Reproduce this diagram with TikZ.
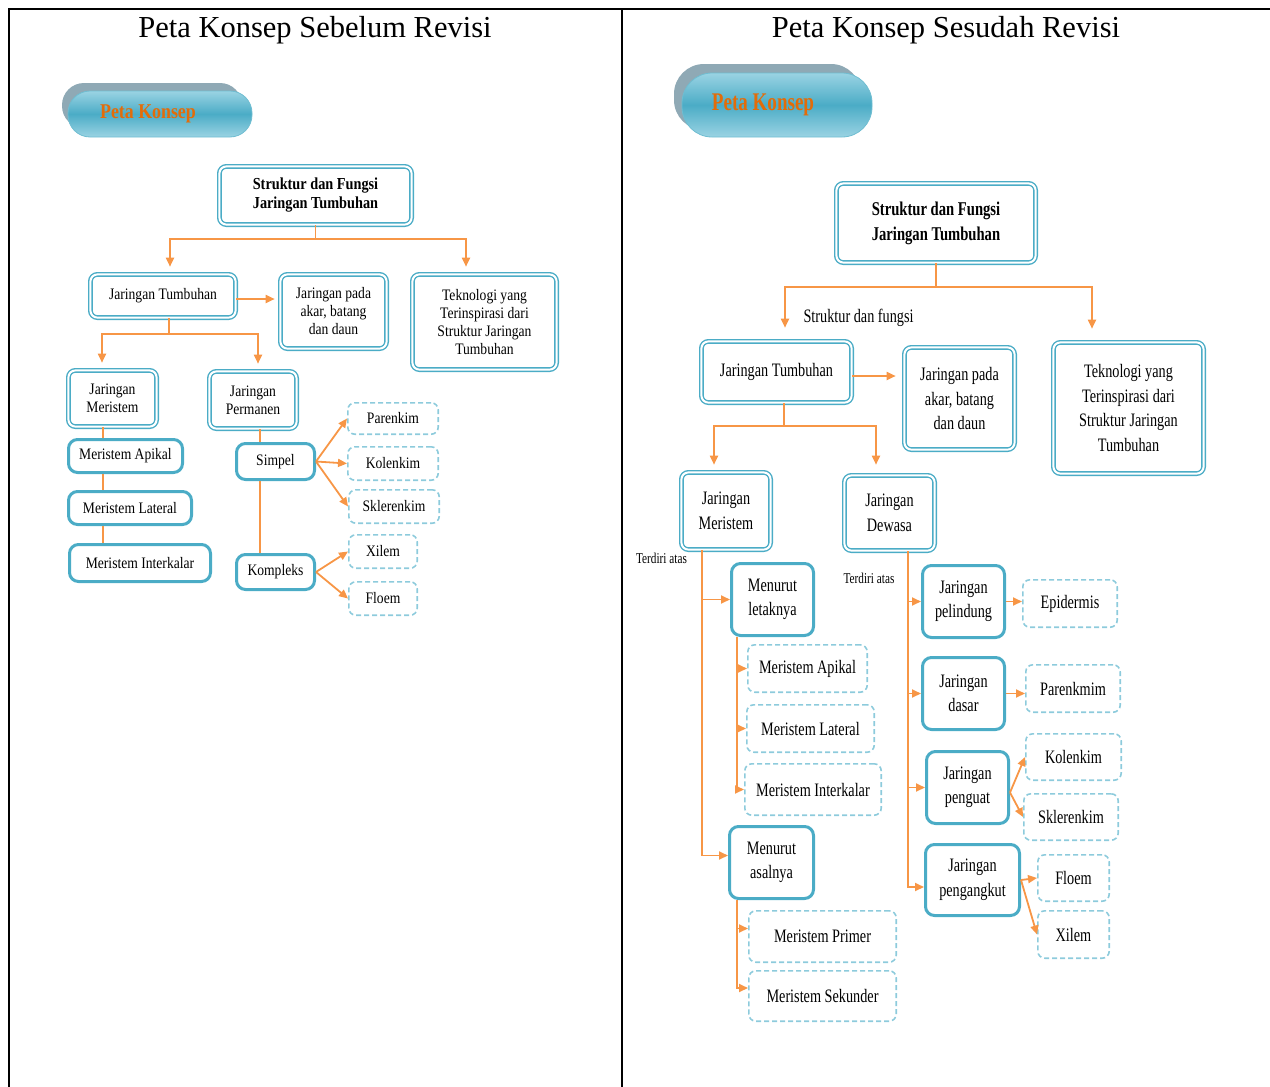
\documentclass[tikz,border=0pt]{standalone}
\usepackage{fontspec}
\setmainfont{Liberation Serif}
\newfontfamily\condL[FakeStretch=0.85]{Liberation Serif}
\newfontfamily\condR[FakeStretch=0.75]{Liberation Serif}
\usepackage{tikz}
\usetikzlibrary{arrows.meta,positioning}
\definecolor{biru}{HTML}{4BACC6}
\definecolor{birumuda}{HTML}{8DCBDC}
\definecolor{oranye}{HTML}{F79646}
\definecolor{oranyetua}{HTML}{E36C09}
\definecolor{bayang}{HTML}{8FA9B5}
\definecolor{pilterang}{HTML}{9AD3E3}

\begin{document}
\begin{tikzpicture}[x=1pt,y=-1pt,
  sz/.style 2 args={minimum width=#1pt,minimum height=#2pt},
  dbl/.style={draw=biru,double=white,double distance=2pt,line width=1.4pt,rounded corners=7pt,align=center,inner sep=0pt,fill=white},
  sol/.style={draw=biru,line width=3pt,rounded corners=9pt,align=center,inner sep=0pt,fill=white},
  dsh/.style={draw=birumuda,line width=1.6pt,dash pattern=on 5pt off 3pt,rounded corners=7pt,align=center,inner sep=0pt},
  ln/.style={draw=oranye,line width=1.8pt},
  ar/.style={ln,-{Triangle[length=9pt,width=8pt]}},
  kiri/.style={font=\condL\fontsize{16}{18}\selectfont},
  kanan/.style={font=\condR\fontsize{19}{24.5}\selectfont},
  pil/.style={draw=biru!80,line width=0.8pt,top color=pilterang,bottom color=pilterang,middle color=biru}]
\useasboundingbox (0,0) rectangle (1270,1087);
\draw[line width=2pt] (9,1087) -- (9,9) -- (1270,9);
\draw[line width=2pt] (622,9) -- (622,1087);

\node[font=\fontsize{30.5}{32}\selectfont] (hA) at (315,30) {Peta Konsep Sebelum Revisi};
\node[font=\fontsize{30.5}{32}\selectfont] (hB) at (946,30) {Peta Konsep Sesudah Revisi};

\fill[bayang,rounded corners=22pt] (62,83) rectangle (242,128);
\node[pil,rounded corners=22pt,sz={184}{46}] (pilA) at (160,114) {};
\node[font=\condL\bfseries\fontsize{21}{22}\selectfont,text=oranyetua] (pkA) at ([xshift=-12pt]pilA.center) {Peta Konsep};

\node[dbl,sz={192.2}{58.2},font=\condL\bfseries\fontsize{16.8}{19}\selectfont] (ttlA) at (315.5,195.5) {Struktur dan Fungsi\\Jaringan Tumbuhan};
\node[dbl,kiri,sz={145.2}{43.2}] (jtA) at (163,296) {Jaringan Tumbuhan};
\node[dbl,kiri,sz={106.2}{74.2}] (akarA) at (333.5,311.5) {Jaringan pada\\akar, batang\\dan daun};
\node[dbl,kiri,sz={144.2}{95.2}] (tekA) at (484.5,322) {Teknologi yang\\Terinspirasi dari\\Struktur Jaringan\\Tumbuhan};
\node[dbl,kiri,sz={88.2}{56.2}] (jmA) at (112.5,398.5) {Jaringan\\Meristem};
\node[dbl,kiri,sz={87.2}{57.2}] (jpA) at (253,400) {Jaringan\\Permanen};
\node[sol,kiri,sz={114}{33}] (apA) at (125.5,456) {Meristem Apikal};
\node[sol,kiri,sz={123}{33}] (latA) at (130,508) {Meristem Lateral};
\node[sol,kiri,sz={141}{37}] (intA) at (140,563) {Meristem Interkalar};
\node[sol,kiri,sz={78}{36}] (simA) at (275.5,461.5) {Simpel};
\node[sol,kiri,sz={78}{35}] (kompA) at (275.5,572) {Kompleks};
\node[dsh,kiri,sz={90.4}{31.4}] (parA) at (393,418.5) {Parenkim};
\node[dsh,kiri,sz={90.4}{33.4}] (kolA) at (393,463.5) {Kolenkim};
\node[dsh,kiri,sz={90.4}{33.4}] (sklA) at (394,506.5) {Sklerenkim};
\node[dsh,kiri,sz={68.4}{33.4}] (xilA) at (383,551.5) {Xilem};
\node[dsh,kiri,sz={68.4}{33.4}] (floA) at (383,598.5) {Floem};

\draw[ln] (ttlA.south) -- ++(0,14) coordinate (cA1);
\draw[ar] (cA1) -| ([xshift=7pt,yshift=7pt]jtA.north);
\draw[ar] (cA1) -| ([xshift=-18.5pt,yshift=7pt]tekA.north);
\coordinate (akA) at ([xshift=-5pt]akarA.west);
\draw[ar] ([yshift=-3pt]jtA.east) coordinate (jtAe) -- (jtAe -| akA);
\draw[ln] ([xshift=6pt]jtA.south) -- ++(0,16) coordinate (cA2);
\draw[ar] (cA2) -| ([xshift=-10.5pt,yshift=7pt]jmA.north);
\draw[ar] (cA2) -| ([xshift=5pt,yshift=7pt]jpA.north);
\coordinate (mA) at ([xshift=-9.5pt]jmA.south);
\draw[ln] (mA) -- (mA |- apA.north) (mA |- apA.south) -- (mA |- latA.north) (mA |- latA.south) -- (mA |- intA.north);
\coordinate (pA) at ([xshift=7pt]jpA.south);
\draw[ln] (pA) -- (pA |- simA.north) (pA |- simA.south) -- (pA |- kompA.north);
\draw[ar] (simA.east) -- (parA.west);
\draw[ar] (simA.east) -- (kolA.west);
\draw[ar] (simA.east) -- (sklA.west);
\draw[ar] (kompA.east) -- (xilA.west);
\draw[ar] (kompA.east) -- (floA.west);

\fill[bayang,rounded corners=30pt] (674,64) rectangle (861,130);
\node[pil,rounded corners=30pt,sz={190}{64}] (pilB) at (777,105) {};
\node[font=\condR\bfseries\fontsize{25.4}{26}\selectfont,text=oranyetua] (pkB) at ([xshift=-14pt]pilB.center) {Peta Konsep};

\node[dbl,sz={199.2}{79.2},font=\condR\bfseries\fontsize{19.5}{25}\selectfont] (ttlB) at (936,223) {Struktur dan Fungsi\\Jaringan Tumbuhan};
\node[dbl,kanan,sz={150.2}{61.2}] (jtB) at (776.5,372) {Jaringan Tumbuhan};
\node[dbl,kanan,sz={110.2}{102.2}] (akarB) at (959.5,398.5) {Jaringan pada\\akar, batang\\dan daun};
\node[dbl,kanan,sz={150.2}{131.2}] (tekB) at (1128.5,408) {Teknologi yang\\Terinspirasi dari\\Struktur Jaringan\\Tumbuhan};
\node[dbl,kanan,sz={89.2}{77.2}] (jmB) at (726,511) {Jaringan\\Meristem};
\node[dbl,kanan,sz={90.2}{75.2}] (jdB) at (889.5,513) {Jaringan\\Dewasa};
\node[sol,kanan,sz={82}{72}] (letB) at (772.5,599.5) {Menurut\\letaknya};
\node[sol,kanan,sz={84}{72}] (asaB) at (771.5,862.5) {Menurut\\asalnya};
\node[sol,kanan,sz={82}{72}] (pelB) at (963.5,601.5) {Jaringan\\pelindung};
\node[sol,kanan,sz={82}{72}] (dasB) at (963.5,693.5) {Jaringan\\dasar};
\node[sol,kanan,sz={82}{72}] (pguB) at (967.5,787.5) {Jaringan\\penguat};
\node[sol,kanan,sz={94}{71}] (pgaB) at (972.5,880) {Jaringan\\pengangkut};
\node[dsh,kanan,sz={119.4}{47.4}] (apiB) at (807.5,668.5) {Meristem Apikal};
\node[dsh,kanan,sz={127.4}{47.4}] (latB) at (810.5,728.5) {Meristem Lateral};
\node[dsh,kanan,sz={136.4}{51.4}] (intB) at (813,789.5) {Meristem Interkalar};
\node[dsh,kanan,sz={147.4}{51.4}] (priB) at (822.5,936.5) {Meristem Primer};
\node[dsh,kanan,sz={147.4}{50.4}] (sekB) at (822.5,996) {Meristem Sekunder};
\node[dsh,kanan,sz={94.4}{47.4}] (epiB) at (1070,603.5) {Epidermis};
\node[dsh,kanan,sz={94.4}{47.4}] (parB) at (1073,688.5) {Parenkmim};
\node[dsh,kanan,sz={95.4}{46.4}] (kolB) at (1073.5,757) {Kolenkim};
\node[dsh,kanan,sz={94.4}{46.4}] (sklB) at (1071,817) {Sklerenkim};
\node[dsh,kanan,sz={71.4}{46.4}] (floB) at (1073.5,878) {Floem};
\node[dsh,kanan,sz={71.4}{47.4}] (xilB) at (1073.5,934.5) {Xilem};
\node[font=\condR\fontsize{15}{16}\selectfont,fill=white,inner sep=1pt] (tdB1) at (661.5,558) {Terdiri atas};
\node[font=\condR\fontsize{15}{16}\selectfont,inner sep=1pt] (tdB2) at (869,578) {Terdiri atas};

\draw[ln] (ttlB.south) -- ++(0,24) coordinate (cB1);
\draw[ar] (cB1) -| ([xshift=8.5pt,yshift=13pt]jtB.north);
\draw[ar] (cB1) -| ([xshift=-36.5pt,yshift=13pt]tekB.north);
\node[kanan,anchor=west] (sdf) at (800,318) {Struktur dan fungsi};
\coordinate (akB) at ([xshift=-8pt]akarB.west);
\draw[ar] ([yshift=-4pt]jtB.east) coordinate (jtBe) -- (jtBe -| akB);
\draw[ln] ([xshift=7.5pt]jtB.south) -- ++(0,23) coordinate (cB2);
\draw[ar] (cB2) -| ([xshift=-12pt,yshift=7pt]jmB.north);
\draw[ar] (cB2) -| ([xshift=-13.5pt,yshift=10pt]jdB.north);

\coordinate (mB) at ([xshift=-24pt]jmB.south);
\draw[ar] (mB) |- ([yshift=7pt]asaB.west);
\draw[ar] (mB |- letB.west) -- (letB.west);
\coordinate (lB) at ([xshift=-35.5pt]letB.south);
\draw[ar] (lB) |- (intB.west);
\draw[ar] (lB |- apiB.west) -- (apiB.west);
\draw[ar] (lB |- latB.west) -- (latB.west);
\coordinate (aB) at ([xshift=-34.5pt]asaB.south);
\draw[ar] (aB) |- ([yshift=8pt]sekB.west);
\coordinate (priBi) at ([yshift=8pt]priB.west);
\draw[ar] (aB |- priBi) -- (priBi);

\coordinate (dB) at ([xshift=18.5pt]jdB.south);
\draw[ar] (dB) |- ([yshift=-7pt]pgaB.west);
\draw[ar] (dB |- pelB.west) -- (pelB.west);
\draw[ar] (dB |- dasB.west) -- (dasB.west);
\draw[ar] (dB |- pguB.west) -- (pguB.west);
\draw[ar] (pelB.east) -- (pelB.east -| epiB.west);
\draw[ar] (dasB.east) -- (dasB.east -| parB.west);
\draw[ar] ([yshift=-5pt]pguB.east) -- (kolB.west);
\draw[ar] ([yshift=-5pt]pguB.east) -- (sklB.west);
\draw[ar] (pgaB.east) -- (floB.west);
\draw[ar] (pgaB.east) -- (xilB.west);
\end{tikzpicture}
\end{document}
